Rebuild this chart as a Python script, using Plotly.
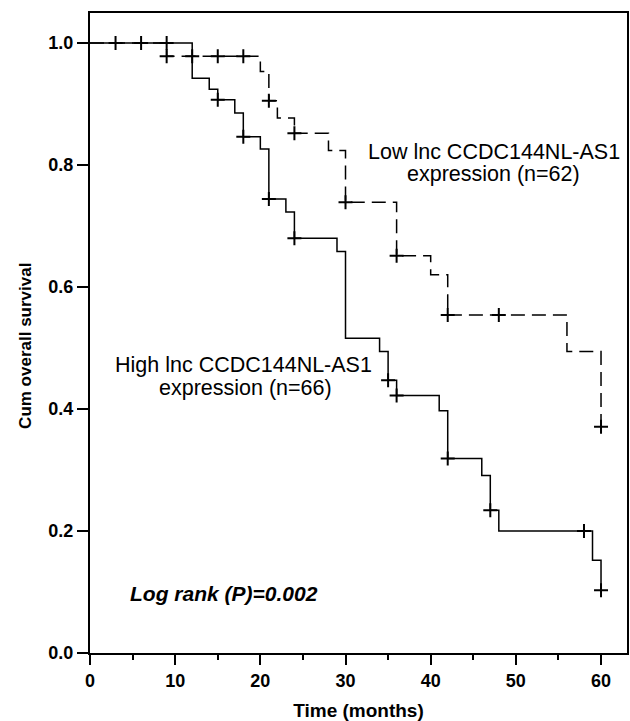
import plotly.graph_objects as go

# High lncRNA expression group (solid line): step times and survival
high_t = [0, 12, 14, 15, 17, 18, 20, 21, 23, 24, 29, 30, 34, 35, 36, 41, 42, 46, 47, 48, 59, 60]
high_s = [1.0, 0.942, 0.924, 0.907, 0.885, 0.846, 0.826, 0.744, 0.723, 0.680, 0.658,
          0.516, 0.494, 0.447, 0.422, 0.397, 0.319, 0.291, 0.234, 0.200, 0.152, 0.103]
high_cens_t = [3, 6, 9, 15, 18, 21, 24, 35, 36, 42, 47, 58, 60]
high_cens_s = [1.0, 1.0, 1.0, 0.907, 0.846, 0.744, 0.680, 0.447, 0.422, 0.319, 0.234, 0.200, 0.103]

# Low lncRNA expression group (dashed line)
low_t = [0, 9, 20, 21, 22, 24, 28, 30, 36, 40, 42, 56, 60]
low_s = [1.0, 0.978, 0.953, 0.905, 0.877, 0.852, 0.8235, 0.739, 0.651, 0.620, 0.554, 0.494, 0.371]
low_cens_t = [9, 12, 15, 18, 21, 24, 30, 36, 42, 48, 60]
low_cens_s = [0.978, 0.978, 0.978, 0.978, 0.905, 0.852, 0.739, 0.651, 0.554, 0.554, 0.371]

x_ticks = [0, 10, 20, 30, 40, 50, 60]
y_ticks = [0.0, 0.2, 0.4, 0.6, 0.8, 1.0]
y_tick_labels = ["0.0", "0.2", "0.4", "0.6", "0.8", "1.0"]

FONT = "Liberation Sans, Arial, Helvetica, sans-serif"

fig = go.Figure()
fig.add_trace(go.Scatter(x=high_t, y=high_s, mode="lines", line_shape="hv",
                         line=dict(color="black", width=1.5), showlegend=False))
fig.add_trace(go.Scatter(x=low_t, y=low_s, mode="lines", line_shape="hv",
                         line=dict(color="black", width=1.5, dash="14px,7px"), showlegend=False))
fig.add_trace(go.Scatter(x=high_cens_t, y=high_cens_s, mode="markers",
                         marker=dict(symbol="cross-thin", size=10, line=dict(color="black", width=2)),
                         showlegend=False))
fig.add_trace(go.Scatter(x=low_cens_t, y=low_cens_s, mode="markers",
                         marker=dict(symbol="cross-thin", size=10, line=dict(color="black", width=2)),
                         showlegend=False))

ann_font = dict(family=FONT, size=21.5, color="black")
annotations = [
    dict(x=47.4, y=0.821, text="Low lnc CCDC144NL-AS1", showarrow=False, font=ann_font),
    dict(x=47.4, y=0.785, text="expression (n=62)", showarrow=False, font=ann_font),
    dict(x=18.0, y=0.472, text="High lnc CCDC144NL-AS1", showarrow=False, font=ann_font),
    dict(x=18.25, y=0.434, text="expression (n=66)", showarrow=False, font=ann_font),
    dict(x=15.7, y=0.098, text="<b><i>Log rank (P)=0.002</i></b>", showarrow=False,
         font=dict(family=FONT, size=21, color="black")),
    dict(xref="paper", yref="paper", x=-0.119, y=0.48, xanchor="center", yanchor="middle",
         text="<b>Cum overall survival</b>",
         textangle=-90, showarrow=False, font=dict(family=FONT, size=17, color="black")),
]

fig.update_layout(
    width=630, height=721,
    margin=dict(l=90, r=1, t=13, b=68),
    plot_bgcolor="white", paper_bgcolor="white",
    annotations=annotations,
    font=dict(family=FONT, color="black"),
)
fig.update_xaxes(range=[0, 63.05], tickvals=x_ticks, ticks="outside", ticklen=10, tickwidth=2,
                 tickcolor="black", showline=True, linecolor="black", linewidth=2, mirror=True,
                 showgrid=False, zeroline=False,
                 tickfont=dict(family=FONT, size=18, color="black", weight="bold"),
                 minor=dict(dtick=5, tick0=0, ticks="outside", ticklen=5, tickwidth=1.5, tickcolor="black"),
                 title=dict(text="<b>Time (months)</b>", standoff=14,
                            font=dict(family=FONT, size=19, color="black")))
fig.update_yaxes(range=[0, 1.049], tickvals=y_ticks, ticktext=y_tick_labels, ticks="outside",
                 ticklen=11, tickwidth=2, tickcolor="black", showline=True, linecolor="black",
                 linewidth=2, mirror=True, showgrid=False, zeroline=False,
                 tickfont=dict(family=FONT, size=18, color="black", weight="bold"))

fig.write_html("out.html", config={"displayModeBar": False},
               post_script="document.body.style.margin='0';document.body.style.overflow='hidden';")
